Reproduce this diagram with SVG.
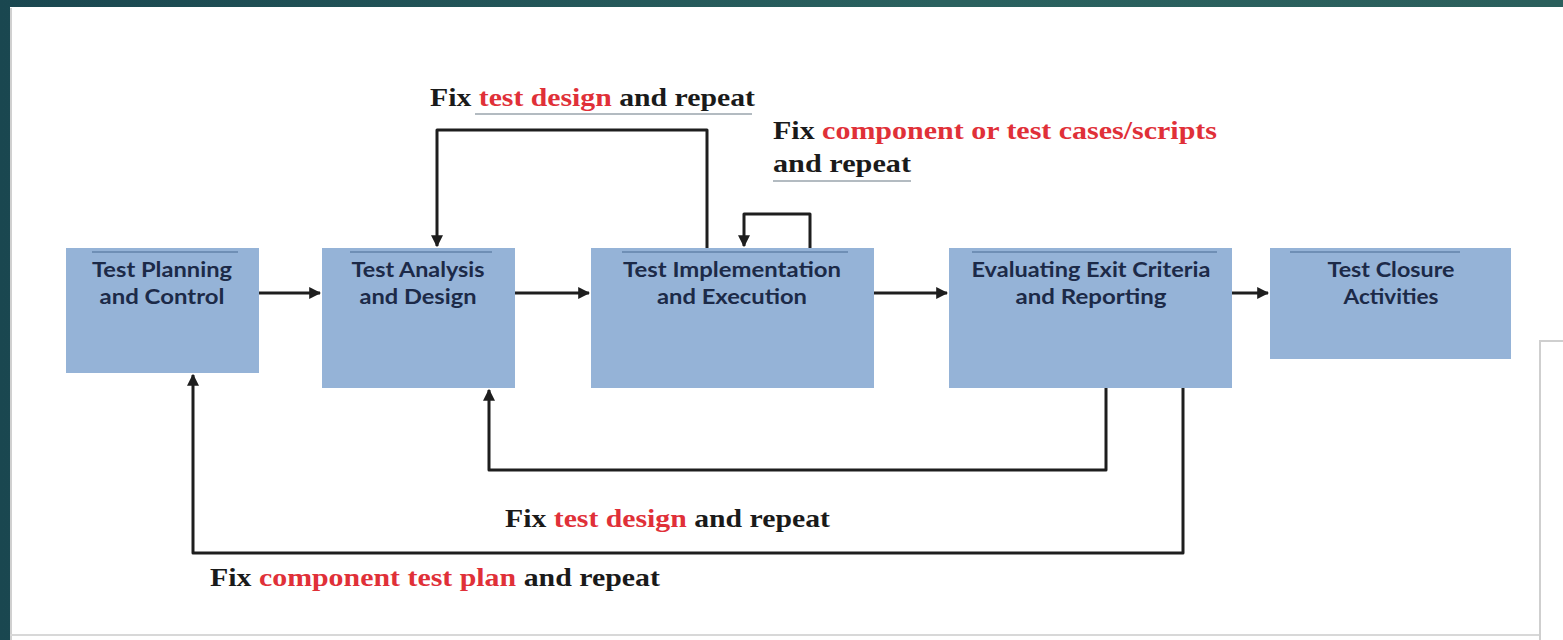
<svg xmlns="http://www.w3.org/2000/svg" width="1563" height="640" viewBox="0 0 1563 640">
<defs>
<linearGradient id="bg" x1="0" y1="0" x2="1" y2="0">
<stop offset="0" stop-color="#1a4750"/>
<stop offset="0.6" stop-color="#2a615f"/>
<stop offset="1" stop-color="#2b5f5c"/>
</linearGradient>
<marker id="ah" viewBox="0 0 10 10" refX="9" refY="5" markerWidth="4" markerHeight="4" orient="auto" markerUnits="strokeWidth">
<path d="M0,0 L10,5 L0,10 Z" fill="#1e1e1e"/>
</marker>
<style>
.box{fill:#95b3d7;}
.bar{stroke:#6f8fb5;stroke-width:2;}
.bt{font-family:Lato,"Open Sans","Liberation Sans",sans-serif;font-weight:bold;font-size:20px;fill:#1c2a48;text-anchor:middle;}
.con{fill:none;stroke:#1e1e1e;stroke-width:3;stroke-linejoin:round;}
.lab{font-family:"Liberation Serif",serif;font-weight:bold;font-size:25px;fill:#1a1a1a;}
.red{fill:#e03038;}
.ul{stroke:#9aa5ad;stroke-width:1.5;}
</style>
</defs>
<rect x="0" y="0" width="1563" height="640" fill="url(#bg)"/>
<rect x="10" y="7" width="1553" height="633" fill="#ffffff"/>
<line x1="11" y1="8" x2="11" y2="640" stroke="#d0d0d0" stroke-width="2"/>
<line x1="10" y1="635" x2="1563" y2="635" stroke="#d8d8d8" stroke-width="2"/>
<rect x="1540" y="341" width="30" height="300" fill="#ffffff" stroke="#cfcfcf" stroke-width="2"/>

<g id="connectors">
<line class="con" x1="259" y1="293" x2="320" y2="293" marker-end="url(#ah)"/>
<line class="con" x1="515" y1="293" x2="589" y2="293" marker-end="url(#ah)"/>
<line class="con" x1="874" y1="293" x2="947" y2="293" marker-end="url(#ah)"/>
<line class="con" x1="1232" y1="293" x2="1268" y2="293" marker-end="url(#ah)"/>
<path class="con" d="M707,248 V130 H437 V246" marker-end="url(#ah)"/>
<path class="con" d="M810,248 V214 H744 V246" marker-end="url(#ah)"/>
<path class="con" d="M1106,388 V470 H489 V390" marker-end="url(#ah)"/>
<path class="con" d="M1183,388 V553 H193 V375" marker-end="url(#ah)"/>
</g>

<g id="n1">
<rect class="box" x="66" y="248" width="193" height="125"/>
<line class="bar" x1="92" y1="252" x2="238" y2="252"/>
<text class="bt" x="162" y="277" textLength="140" lengthAdjust="spacingAndGlyphs">Test Planning</text>
<text class="bt" x="162" y="304" textLength="125" lengthAdjust="spacingAndGlyphs">and Control</text>
</g>
<g id="n2">
<rect class="box" x="322" y="248" width="193" height="140"/>
<line class="bar" x1="350" y1="252" x2="492" y2="252"/>
<text class="bt" x="418" y="277" textLength="133" lengthAdjust="spacingAndGlyphs">Test Analysis</text>
<text class="bt" x="418" y="304" textLength="117" lengthAdjust="spacingAndGlyphs">and Design</text>
</g>
<g id="n3">
<rect class="box" x="591" y="248" width="283" height="140"/>
<line class="bar" x1="622" y1="252" x2="848" y2="252"/>
<text class="bt" x="732" y="277" textLength="218" lengthAdjust="spacingAndGlyphs">Test Implementation</text>
<text class="bt" x="732" y="304" textLength="150" lengthAdjust="spacingAndGlyphs">and Execution</text>
</g>
<g id="n4">
<rect class="box" x="949" y="248" width="283" height="140"/>
<line class="bar" x1="972" y1="252" x2="1217" y2="252"/>
<text class="bt" x="1091" y="277" textLength="239" lengthAdjust="spacingAndGlyphs">Evaluating Exit Criteria</text>
<text class="bt" x="1091" y="304" textLength="151" lengthAdjust="spacingAndGlyphs">and Reporting</text>
</g>
<g id="n5">
<rect class="box" x="1270" y="248" width="241" height="111"/>
<line class="bar" x1="1290" y1="252" x2="1460" y2="252"/>
<text class="bt" x="1391" y="277" textLength="127" lengthAdjust="spacingAndGlyphs">Test Closure</text>
<text class="bt" x="1391" y="304" textLength="95" lengthAdjust="spacingAndGlyphs">Activities</text>
</g>

<g id="labels">
<text class="lab" x="430" y="106" textLength="325" lengthAdjust="spacingAndGlyphs">Fix <tspan class="red">test design</tspan> and repeat</text>
<line class="ul" x1="475" y1="114" x2="752" y2="114"/>
<text class="lab" x="773" y="139" textLength="444" lengthAdjust="spacingAndGlyphs">Fix <tspan class="red">component or test cases/scripts</tspan></text>
<text class="lab" x="773" y="172" textLength="138" lengthAdjust="spacingAndGlyphs">and repeat</text>
<line class="ul" x1="773" y1="181" x2="911" y2="181"/>
<text class="lab" x="505" y="527" textLength="325" lengthAdjust="spacingAndGlyphs">Fix <tspan class="red">test design</tspan> and repeat</text>
<text class="lab" x="210" y="586" textLength="450" lengthAdjust="spacingAndGlyphs">Fix <tspan class="red">component test plan</tspan> and repeat</text>
</g>
</svg>
